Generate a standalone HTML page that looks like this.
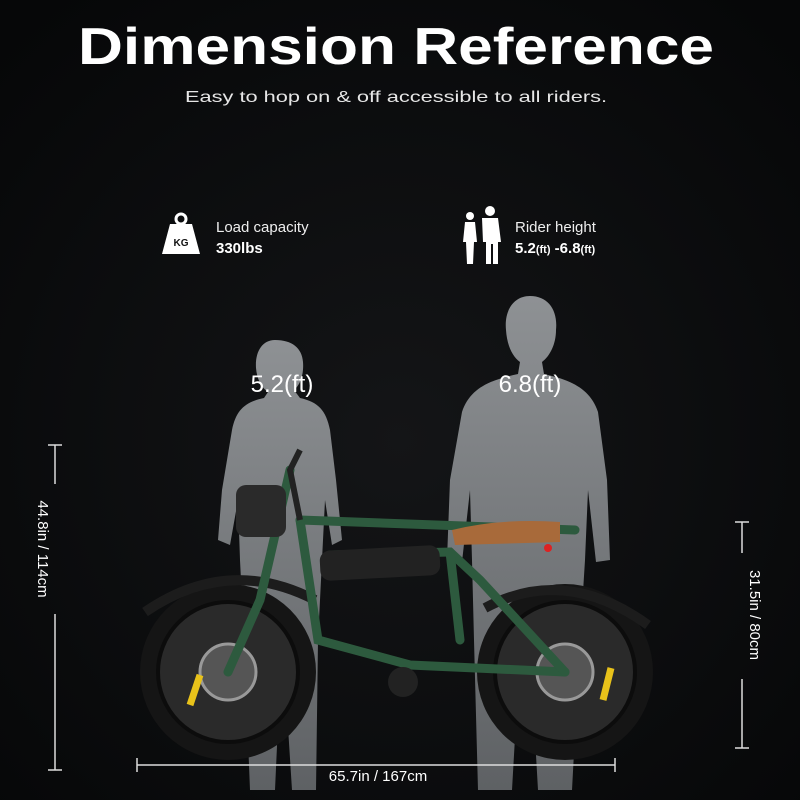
<!DOCTYPE html>
<html><head><meta charset="utf-8"><style>
html,body{margin:0;padding:0;background:#08090a;}
svg{display:block}
text{font-family:"Liberation Sans","DejaVu Sans",sans-serif;}
</style></head><body>
<svg width="800" height="800" viewBox="0 0 800 800" xmlns="http://www.w3.org/2000/svg">
<defs>
<radialGradient id="bg" cx="50%" cy="55%" r="70%">
<stop offset="0" stop-color="#141517"/><stop offset="1" stop-color="#060708"/>
</radialGradient>
<linearGradient id="sil" x1="0" y1="0" x2="0" y2="1">
<stop offset="0" stop-color="#8e9194"/><stop offset="1" stop-color="#5e6164"/>
</linearGradient>
</defs>
<rect width="800" height="800" fill="url(#bg)"/>
<text x="78" y="64" textLength="636" lengthAdjust="spacingAndGlyphs" fill="#fff" font-size="52" font-weight="bold">Dimension Reference</text>
<text x="185" y="102" textLength="422" lengthAdjust="spacingAndGlyphs" fill="#e6e6e6" font-size="16">Easy to hop on &amp; off accessible to all riders.</text>

<!-- KG icon -->
<path d="M170 224 L192 224 L200 254 L162 254 Z" fill="#fff"/>
<circle cx="181" cy="219" r="5" fill="none" stroke="#fff" stroke-width="3"/>
<text x="181" y="246" text-anchor="middle" font-size="10" font-weight="bold" fill="#111">KG</text>
<text x="216" y="232" fill="#eee" font-size="15">Load capacity</text>
<text x="216" y="253" fill="#fff" font-size="15" font-weight="bold">330lbs</text>

<!-- people icon -->
<g fill="#fff">
<circle cx="470" cy="216" r="4"/><path d="M465 222h10l2 20h-3l-1 22h-6l-1-22h-3z"/>
<circle cx="490" cy="211" r="5"/><path d="M482 218h16l3 24h-3v22h-5v-20h-2v20h-5v-22h-3z"/>
</g>
<text x="515" y="232" fill="#eee" font-size="15">Rider height</text>
<text x="515" y="253" fill="#fff" font-size="15" font-weight="bold">5.2<tspan font-size="11">(ft)</tspan> -6.8<tspan font-size="11">(ft)</tspan></text>

<!-- woman silhouette -->
<path fill="url(#sil)" d="M275 340 C262 340 255 352 256 368 C257 380 262 388 268 392 L264 398 C245 402 236 410 232 430 L222 490 L218 540 L230 545 L238 500 L240 560 L244 640 L250 790 L275 790 L280 680 L285 680 L292 790 L316 790 L318 640 L322 560 L325 500 L332 545 L342 540 L336 480 L330 430 C326 410 318 402 300 398 L294 390 C300 385 304 375 303 362 C302 348 292 340 275 340 Z"/>
<!-- man silhouette -->
<path fill="url(#sil)" d="M530 296 C514 296 504 310 506 330 C507 345 512 356 520 362 L518 374 C490 380 470 388 462 412 L450 480 L447 560 L462 562 L470 490 L472 560 L474 640 L478 790 L512 790 L520 650 L530 650 L538 790 L572 790 L580 640 L585 560 L588 490 L596 562 L610 560 L607 480 L598 412 C590 388 570 380 544 374 L542 362 C550 356 556 344 556 330 C558 310 548 296 530 296 Z"/>
<text x="282" y="392" text-anchor="middle" fill="#fff" font-size="24">5.2(ft)</text>
<text x="530" y="392" text-anchor="middle" fill="#fff" font-size="24">6.8(ft)</text>

<!-- bike -->
<g>
<circle cx="228" cy="672" r="88" fill="#151515"/>
<circle cx="228" cy="672" r="70" fill="#2a2a2a" stroke="#0c0c0c" stroke-width="4"/>
<circle cx="228" cy="672" r="28" fill="#555" stroke="#999" stroke-width="3"/>
<circle cx="565" cy="672" r="88" fill="#151515"/>
<circle cx="565" cy="672" r="70" fill="#2a2a2a" stroke="#0c0c0c" stroke-width="4"/>
<circle cx="565" cy="672" r="28" fill="#555" stroke="#999" stroke-width="3"/>
<path d="M190 705 l10 -30" stroke="#e8c21a" stroke-width="7"/>
<path d="M603 700 l8 -32" stroke="#e8c21a" stroke-width="7"/>
<path d="M145 612 Q228 555 315 600" stroke="#1c1c1c" stroke-width="10" fill="none"/>
<path d="M485 608 Q565 565 648 625" stroke="#1c1c1c" stroke-width="10" fill="none"/>
<g stroke="#2d5a3e" stroke-width="9" fill="none" stroke-linecap="round">
<path d="M300 520 L575 530"/>
<path d="M300 520 L318 640 L410 665 L565 672"/>
<path d="M330 555 L450 552 L480 580 L565 672"/>
<path d="M290 470 L260 600 L228 672"/>
<path d="M450 552 L460 640"/>
</g>
<rect x="320" y="548" width="120" height="30" rx="10" fill="#222" transform="rotate(-3 380 563)"/>
<path d="M452 530 Q500 518 560 522 L560 542 L455 545 Z" fill="#a86a3a"/>
<rect x="236" y="485" width="50" height="52" rx="10" fill="#2a2a2a"/>
<path d="M300 450 L290 470 L300 520" stroke="#222" stroke-width="6" fill="none"/>
<circle cx="403" cy="682" r="15" fill="#222"/>
<circle cx="548" cy="548" r="4" fill="#d22"/>
</g>

<!-- dimension lines -->
<g stroke="#ddd" stroke-width="1.5">
<line x1="55" y1="445" x2="55" y2="484"/><line x1="55" y1="614" x2="55" y2="770"/>
<line x1="48" y1="445" x2="62" y2="445"/><line x1="48" y1="770" x2="62" y2="770"/>
<line x1="742" y1="522" x2="742" y2="553"/><line x1="742" y1="679" x2="742" y2="748"/>
<line x1="735" y1="522" x2="749" y2="522"/><line x1="735" y1="748" x2="749" y2="748"/>
<line x1="137" y1="765" x2="615" y2="765"/><line x1="137" y1="758" x2="137" y2="772"/><line x1="615" y1="758" x2="615" y2="772"/>
</g>
<text transform="translate(38 549) rotate(90)" text-anchor="middle" fill="#fff" font-size="15">44.8in / 114cm</text>
<text transform="translate(750 615) rotate(90)" text-anchor="middle" fill="#fff" font-size="15">31.5in / 80cm</text>
<text x="378" y="781" text-anchor="middle" fill="#fff" font-size="15">65.7in / 167cm</text>
</svg>
</body></html>
